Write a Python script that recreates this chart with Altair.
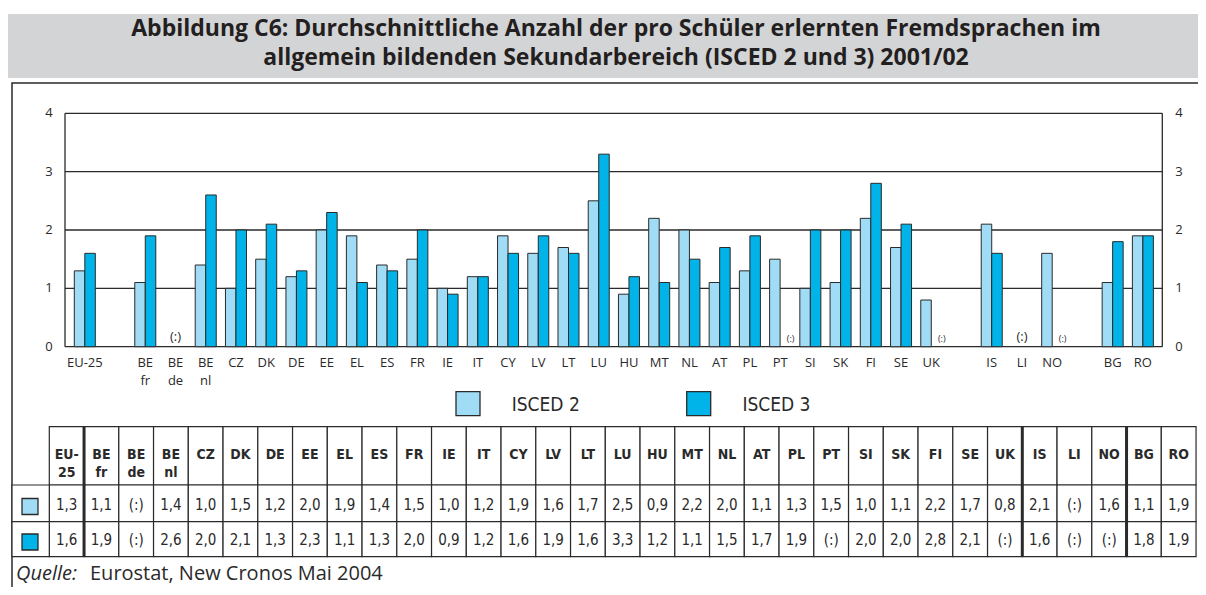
import altair as alt
import pandas as pd

# ---------------- data ----------------
groups = [
    ["EU-25"],
    ["BE fr", "BE de", "BE nl", "CZ", "DK", "DE", "EE", "EL", "ES", "FR", "IE", "IT",
     "CY", "LV", "LT", "LU", "HU", "MT", "NL", "AT", "PL", "PT", "SI", "SK", "FI", "SE", "UK"],
    ["IS", "LI", "NO"],
    ["BG", "RO"],
]
countries = [c for g in groups for c in g]
isced2 = [1.3, 1.1, None, 1.4, 1.0, 1.5, 1.2, 2.0, 1.9, 1.4, 1.5, 1.0, 1.2, 1.9, 1.6, 1.7,
          2.5, 0.9, 2.2, 2.0, 1.1, 1.3, 1.5, 1.0, 1.1, 2.2, 1.7, 0.8, 2.1, None, 1.6, 1.1, 1.9]
isced3 = [1.6, 1.9, None, 2.6, 2.0, 2.1, 1.3, 2.3, 1.1, 1.3, 2.0, 0.9, 1.2, 1.6, 1.9, 1.6,
          3.3, 1.2, 1.1, 1.5, 1.7, 1.9, None, 2.0, 2.0, 2.8, 2.1, None, 1.6, None, None, 1.8, 1.9]
series = ["ISCED 2", "ISCED 3"]
colors = ["#a0dcf5", "#00b4ea"]
y_ticks = [0, 1, 2, 3, 4]
title_lines = [
    "Abbildung C6: Durchschnittliche Anzahl der pro Schüler erlernten Fremdsprachen im",
    "allgemein bildenden Sekundarbereich (ISCED 2 und 3) 2001/02",
]
source_label = "Quelle:"
source_text = "Eurostat, New Cronos Mai 2004"

# ---------------- layout ----------------
W, H = 1190, 579
INK = "#2a2a2a"
COND = "DejaVu Sans Condensed, Liberation Sans Narrow, Roboto, sans-serif"
SANS = "Open Sans, Noto Sans, sans-serif"

slots = []
for i, g in enumerate(groups):
    if i > 0:
        slots.append(f"_gap{i}")
    slots.extend(g)

PI = 0.305
xs = alt.Scale(domain=slots, range=[61.7, 1150.0], paddingInner=PI, paddingOuter=PI / 2)
xo = alt.Scale(domain=series, paddingInner=0, paddingOuter=0)
ys = alt.Scale(domain=[0, 4], range=[338.7, 105.3], nice=False, zero=True)
cs = alt.Scale(domain=series, range=colors)

one = pd.DataFrame({"k": [0]})

# bars
bar_rows = []
for c, a, b in zip(countries, isced2, isced3):
    for s, v in zip(series, (a, b)):
        if v is not None:
            bar_rows.append({"slot": c, "series": s, "value": v})
df_bars = pd.DataFrame(bar_rows)

# missing markers
big_na = pd.DataFrame({"slot": [c for c, a, b in zip(countries, isced2, isced3) if a is None and b is None]})
small_na = pd.DataFrame({"slot": [c for c, a, b in zip(countries, isced2, isced3) if a is not None and b is None],
                         "series": "ISCED 3"})

df_ticks = pd.DataFrame({"v": y_ticks})
df_box = pd.DataFrame({"lo": [min(y_ticks)], "hi": [max(y_ticks)]})
df_xlab = pd.DataFrame({"slot": countries, "label": [c.replace(" ", "\n") for c in countries]})


def fmt(v):
    return "(:)" if v is None else f"{v:.1f}".replace(".", ",")


df_table = pd.DataFrame({
    "country": countries,
    "header": [c.replace("-", "-\n").replace(" ", "\n") for c in countries],
    "v2": [fmt(v) for v in isced2],
    "v3": [fmt(v) for v in isced3],
})
df_sep = pd.DataFrame({"country": [g[-1] for g in groups[:-1]]})
df_series = pd.DataFrame({"series": series})

TSTEP = 34.75
tx = alt.Scale(domain=countries, range=[41.3, 41.3 + TSTEP * len(countries)], paddingInner=0, paddingOuter=0)
T_TOP, T_H1, T_R1, T_R2 = 418.7, 477.0, 513.7, 548.7

layers = []

# frame
layers.append(alt.Chart(one).mark_rect(fill="transparent", stroke=INK, strokeWidth=1.5).encode(
    x=alt.value(4), x2=alt.value(W + 20), y=alt.value(75), y2=alt.value(H + 20)))
# title band
layers.append(alt.Chart(one).mark_rect(color="#d3d4d6").encode(
    x=alt.value(0), x2=alt.value(W + 20), y=alt.value(6), y2=alt.value(70)))
layers.append(alt.Chart(pd.DataFrame({"t": ["\n".join(title_lines)]})).mark_text(
    font=SANS, fontWeight="bold", fontSize=23, lineBreak="\n", lineHeight=29,
    align="center", baseline="alphabetic", color="#231f20").encode(
    x=alt.value(608), y=alt.value(28), text="t:N"))

# grid lines
layers.append(alt.Chart(df_ticks).mark_rule(color=INK, strokeWidth=1.3).encode(
    y=alt.Y("v:Q", scale=ys, axis=None), x=alt.value(57), x2=alt.value(1154.3)))
layers.append(alt.Chart(df_box).mark_rule(color=INK, strokeWidth=1.3).encode(
    y=alt.Y("lo:Q", scale=ys, axis=None), y2="hi:Q", x=alt.value(57)))
layers.append(alt.Chart(df_box).mark_rule(color=INK, strokeWidth=1.3).encode(
    y=alt.Y("lo:Q", scale=ys, axis=None), y2="hi:Q", x=alt.value(1154.3)))

# bars
layers.append(alt.Chart(df_bars).mark_bar(stroke=INK, strokeWidth=1).encode(
    x=alt.X("slot:N", scale=xs, axis=None),
    xOffset=alt.XOffset("series:N", scale=xo),
    y=alt.Y("value:Q", scale=ys, axis=None),
    color=alt.Color("series:N", scale=cs, legend=None)))

# (:) markers
layers.append(alt.Chart(big_na).mark_text(text="(:)", font=SANS, fontSize=13, color=INK, baseline="middle").encode(
    x=alt.X("slot:N", scale=xs, axis=None), y=alt.value(328.7)))
layers.append(alt.Chart(small_na).mark_text(text="(:)", font=SANS, fontSize=9, color=INK, baseline="middle").encode(
    x=alt.X("slot:N", scale=xs, axis=None), xOffset=alt.XOffset("series:N", scale=xo), y=alt.value(330.5)))

# axis labels
for xpos in (41, 1171):
    layers.append(alt.Chart(df_ticks).mark_text(font=SANS, fontSize=13, color=INK, baseline="middle").encode(
        y=alt.Y("v:Q", scale=ys, axis=None), x=alt.value(xpos), text="v:Q"))
layers.append(alt.Chart(df_xlab).mark_text(font=SANS, fontSize=13, color=INK, baseline="top",
                                           lineBreak="\n", lineHeight=18.3).encode(
    x=alt.X("slot:N", scale=xs, axis=None), y=alt.value(349), text="label:N"))

# legend
lx = alt.Scale(domain=series, range=[460, 690.7], padding=0)
layers.append(alt.Chart(df_series).mark_square(size=576, stroke=INK, strokeWidth=1.3, opacity=1).encode(
    x=alt.X("series:N", scale=lx, axis=None), y=alt.value(395.7),
    color=alt.Color("series:N", scale=cs, legend=None)))
layers.append(alt.Chart(df_series).mark_text(font=COND, fontSize=19, color=INK, align="left",
                                             baseline="middle", dx=43.7).encode(
    x=alt.X("series:N", scale=lx, axis=None), y=alt.value(397), text="series:N"))

# table cells
for y1, y2 in ((T_TOP, T_H1), (T_H1, T_R1), (T_R1, T_R2)):
    layers.append(alt.Chart(df_table).mark_rect(fill="white", stroke=INK, strokeWidth=1.2).encode(
        x=alt.X("country:N", scale=tx, axis=None), y=alt.value(y1), y2=alt.value(y2)))
for y1, y2 in ((T_H1, T_R1), (T_R1, T_R2)):
    layers.append(alt.Chart(one).mark_rect(fill="white", stroke=INK, strokeWidth=1.2).encode(
        x=alt.value(4), x2=alt.value(41.3), y=alt.value(y1), y2=alt.value(y2)))
layers.append(alt.Chart(df_sep).mark_rule(color=INK, strokeWidth=3).encode(
    x=alt.X("country:N", scale=tx, axis=None, bandPosition=1), y=alt.value(T_TOP), y2=alt.value(T_R2)))

# table text
layers.append(alt.Chart(df_table).mark_text(font=COND, fontWeight="bold", fontSize=14, color=INK,
                                            lineBreak="\n", lineHeight=18, baseline="middle").encode(
    x=alt.X("country:N", scale=tx, axis=None), y=alt.value(446.7), text="header:N"))
layers.append(alt.Chart(df_table).mark_text(font=COND, fontSize=15, color=INK, baseline="middle").encode(
    x=alt.X("country:N", scale=tx, axis=None), y=alt.value(497), text="v2:N"))
layers.append(alt.Chart(df_table).mark_text(font=COND, fontSize=15, color=INK, baseline="middle").encode(
    x=alt.X("country:N", scale=tx, axis=None), y=alt.value(532), text="v3:N"))

# table swatches
sy = alt.Scale(domain=series, range=[498.5, 534], padding=0)
layers.append(alt.Chart(df_series).mark_square(size=256, stroke=INK, strokeWidth=1.3, opacity=1).encode(
    x=alt.value(22), y=alt.Y("series:N", scale=sy, axis=None),
    color=alt.Color("series:N", scale=cs, legend=None)))

# source
layers.append(alt.Chart(pd.DataFrame({"t": [source_label]})).mark_text(
    font=SANS, fontSize=20, fontStyle="italic", color=INK, align="left", baseline="alphabetic").encode(
    x=alt.value(8), y=alt.value(572), text="t:N"))
layers.append(alt.Chart(pd.DataFrame({"t": [source_text]})).mark_text(
    font=SANS, fontSize=20, color=INK, align="left", baseline="alphabetic").encode(
    x=alt.value(82), y=alt.value(572), text="t:N"))

chart = alt.layer(*layers).resolve_scale(
    x="independent", y="independent", color="independent", xOffset="independent"
).properties(
    width=W, height=H, padding=0, autosize=alt.AutoSizeParams(type="none")
).configure_view(stroke=None)

chart.save("out.html", embed_options={"renderer": "svg", "actions": False})
